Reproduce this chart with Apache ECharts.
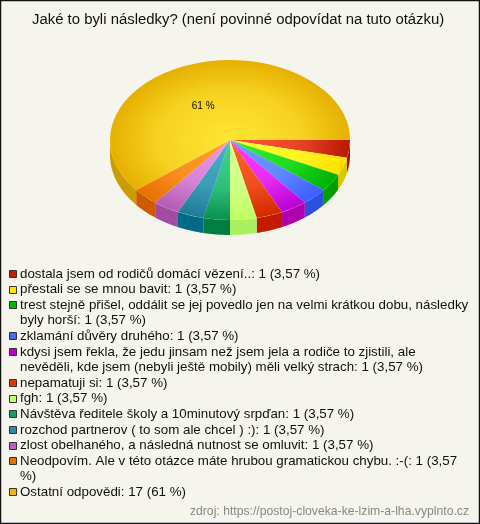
<!DOCTYPE html>
<html><head><meta charset="utf-8">
<style>html,body{margin:0;padding:0;background:#f5f4ed}#c{width:480px;height:524px}</style>
<script src="https://cdn.jsdelivr.net/npm/echarts@6/dist/echarts.min.js"></script>
</head><body><div id="c"></div>
<script>
const chartTitle = "Jaké to byli následky? (není povinné odpovídat na tuto otázku)";
const sourceText = "zdroj: https://postoj-cloveka-ke-lzim-a-lha.vyplnto.cz";
const categories = [
 "dostala jsem od rodičů domácí vězení..",
 "přestali se se mnou bavit",
 "trest stejně přišel, oddálit se jej povedlo jen na velmi krátkou dobu, následky\nbyly horší",
 "zklamání důvěry druhého",
 "kdysi jsem řekla, že jedu jinsam než jsem jela a rodiče to zjistili, ale\nnevěděli, kde jsem (nebyli ještě mobily) měli velký strach",
 "nepamatuji si",
 "fgh",
 "Návštěva ředitele školy a 10minutový srpďan",
 "rozchod partnerov ( to som ale chcel ) :)",
 "zlost obelhaného, a následná nutnost se omluvit",
 "Neodpovím. Ale v této otázce máte hrubou gramatickou chybu. :-(",
 "Ostatní odpovědi"
];
const values = [1,1,1,1,1,1,1,1,1,1,1,17];
const percents = ["3,57 %","3,57 %","3,57 %","3,57 %","3,57 %","3,57 %","3,57 %","3,57 %","3,57 %","3,57 %","3,57\n%","61 %"];
const swatchColors = ["#c81e00","#ffe800","#00b800","#3f6cff","#c000d0","#e03c00","#c8ff70","#10a060","#2a8aa8","#b860c0","#e87000","#eeb800"];
const innerColors  = ["#ff5a3a","#ffff30","#30f030","#70a0ff","#ff40ff","#ff6428","#dcff98","#40d890","#4ab0c8","#ee98ee","#ffa030","#ffe535"];
const outerColors  = ["#b81800","#ffe000","#00b000","#3d5cff","#b800d8","#d42800","#bcff60","#0a9050","#1f7a98","#b05cb0","#e87000","#e6b000"];
const wallColors   = ["#a80c00","#e0c400","#00a000","#2c50e0","#b000b0","#c41a00","#a8f060","#007d40","#006a88","#a34ba3","#cc5a00","#cc9c00"];

const CX=230, CY=140, RX=120, RY=80, DEPTH=15;
const total = values.reduce((a,b)=>a+b,0);
const starts = []; values.reduce((s,v,i)=>{starts[i]=s; return s+v;},0);
const ang = v => v/total*Math.PI*2;

function renderItem(params, api){
  const i = params.dataIndex, a0 = ang(starts[i]), a1 = a0+ang(api.value(0));
  const children = [];
  const wEnd = Math.min(a1, Math.PI);
  if (a0 < Math.PI){
    const top=[], bot=[];
    for(let k=0;k<=24;k++){
      const t=a0+(wEnd-a0)*k/24, x=CX+RX*Math.cos(t), y=CY+RY*Math.sin(t);
      top.push([x,y]); bot.unshift([x,y+DEPTH]);
    }
    children.push({type:'polygon',shape:{points:top.concat(bot)},style:{fill:wallColors[i]}});
  }
  const mid = echarts.color.lerp(0.35,[innerColors[i],outerColors[i]]);
  children.push({type:'group',x:CX,y:CY,scaleY:RY/RX,children:[{
    type:'sector',
    shape:{cx:0,cy:0,r0:0,r:RX,startAngle:a0,endAngle:a1,clockwise:true},
    style:{fill:{type:'radial',x:0,y:0,r:RX,global:true,colorStops:[{offset:0,color:innerColors[i]},{offset:0.6,color:mid},{offset:1,color:outerColors[i]}]}}
  }]});
  if (api.value(0)/total > 0.5){
    const m=(a0+a1)/2;
    children.push({type:'text',x:CX+RX*0.5*Math.cos(m)-7,y:CY+RY*0.5*Math.sin(m)+4,
      style:{text:percents[i],fill:'#111',fontSize:10,fontFamily:'"Liberation Sans",Arial,sans-serif',align:'center',verticalAlign:'middle'}});
  }
  return {type:'group',children};
}

const LEFT=9, TOP=270, LINE=15.6;
const legendEls=[]; let line=0;
categories.forEach((c,i)=>{
  const text=c+": "+values[i]+" ("+percents[i]+")";
  const n=text.split("\n").length;
  const sy=Math.round(TOP+line*LINE);
  legendEls.push({type:'rect',shape:{x:LEFT+.5,y:sy+.5,width:7,height:7},style:{fill:swatchColors[i],stroke:'#333',lineWidth:1}});
  text.split("\n").forEach((t,k)=>legendEls.push({type:'text',x:20,y:TOP+(line+k)*LINE+4,
    style:{text:t,fill:'#111',fontSize:13.33,fontFamily:'"Liberation Sans",Arial,sans-serif',verticalAlign:'middle'}}));
  line+=n;
});

const chart=echarts.init(document.getElementById('c'),null,{renderer:'canvas'});
chart.setOption({
  animation:false,
  backgroundColor:'#f5f4ed',
  title:{text:chartTitle,left:32,top:8,padding:[4,0,0,0],textStyle:{fontSize:14.9,fontWeight:'normal',color:'#111',fontFamily:'"Liberation Sans",Arial,sans-serif'}},
  series:[{type:'custom',coordinateSystem:'none',renderItem,data:values.map(v=>[v]),silent:true}],
  graphic:{elements:[
    {type:'rect',z:-1,shape:{x:.5,y:.5,width:479,height:523},style:{fill:'none',stroke:'#111',lineWidth:1.5}},
    ...legendEls,
    {type:'text',x:469,y:511.5,style:{text:sourceText,fill:'#888',fontSize:12.2,align:'right',verticalAlign:'middle',fontFamily:'"Liberation Sans",Arial,sans-serif'}}
  ]}
});
</script></body></html>
